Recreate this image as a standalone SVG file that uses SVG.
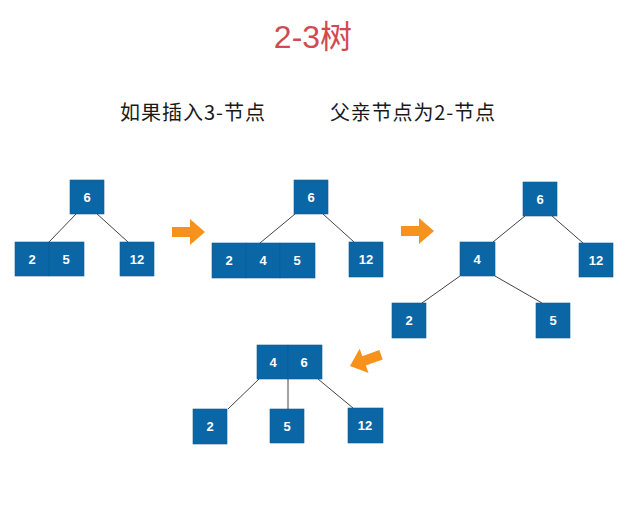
<svg xmlns="http://www.w3.org/2000/svg" width="631" height="510" viewBox="0 0 631 510">
<defs>
<style>
.n rect{fill:#0b66a6;stroke:#0a5d98;stroke-width:0.6}
.n text{fill:#fff;font-family:"Liberation Sans",Arial,sans-serif;font-weight:bold;font-size:13px;text-anchor:middle}
.e line{stroke:#444;stroke-width:1}
.ar{fill:#f7921c}
.sub{font-family:"Noto Sans CJK SC","Noto Sans",sans-serif;font-size:20px;fill:#1a1a1a}
</style>
<path id="arrow" d="M0,0 L-15,-13 L-15,-5 L-33,-5 L-33,5 L-15,5 L-15,13 Z"/>
</defs>
<rect width="631" height="510" fill="#fff"/>
<text x="313" y="48" text-anchor="middle" font-family="'Liberation Sans','Noto Sans CJK SC',sans-serif" font-size="32" fill="#d24a50">2-3树</text>
<text class="sub" x="120" y="120" textLength="145" lengthAdjust="spacing">如果插入3-节点</text>
<text class="sub" x="330" y="120" textLength="165" lengthAdjust="spacing">父亲节点为2-节点</text>

<g id="connectors" class="e">
<line x1="77" y1="213" x2="49" y2="242"/>
<line x1="96" y1="213" x2="128" y2="242"/>
<line x1="295" y1="214" x2="260" y2="243"/>
<line x1="323" y1="214" x2="354" y2="242"/>
<line x1="525" y1="216" x2="493" y2="242"/>
<line x1="552" y1="216" x2="583" y2="243"/>
<line x1="460" y1="276" x2="422" y2="303"/>
<line x1="495" y1="276" x2="542" y2="303"/>
<line x1="259" y1="379" x2="228" y2="409"/>
<line x1="288" y1="379" x2="288" y2="409"/>
<line x1="318" y1="379" x2="353" y2="408"/>
</g>

<g id="arrows" class="ar">
<use href="#arrow" transform="translate(205,232)"/>
<use href="#arrow" transform="translate(434,231)"/>
<use href="#arrow" transform="translate(350,366) rotate(160)"/>
</g>

<g id="t1-6" class="n"><rect x="70" y="180" width="34" height="34"/><text x="87" y="202">6</text></g>
<g id="t1-25" class="n"><rect x="15" y="242" width="34" height="34"/><rect x="49" y="242" width="35" height="34"/><text x="32" y="264">2</text><text x="66" y="264">5</text></g>
<g id="t1-12" class="n"><rect x="120" y="242" width="34" height="34"/><text x="137" y="264">12</text></g>

<g id="t2-6" class="n"><rect x="294" y="180" width="34" height="34"/><text x="311" y="202">6</text></g>
<g id="t2-245" class="n"><rect x="212" y="243" width="34" height="35"/><rect x="246" y="243" width="34" height="35"/><rect x="280" y="243" width="35" height="35"/><text x="229" y="265">2</text><text x="263" y="265">4</text><text x="297" y="265">5</text></g>
<g id="t2-12" class="n"><rect x="349" y="242" width="34" height="35"/><text x="366" y="264">12</text></g>

<g id="t3-6" class="n"><rect x="523" y="182" width="34" height="34"/><text x="540" y="204">6</text></g>
<g id="t3-4" class="n"><rect x="460" y="242" width="35" height="34"/><text x="477" y="264">4</text></g>
<g id="t3-12" class="n"><rect x="579" y="243" width="34" height="34"/><text x="596" y="265">12</text></g>
<g id="t3-2" class="n"><rect x="392" y="303" width="34" height="35"/><text x="409" y="325">2</text></g>
<g id="t3-5" class="n"><rect x="536" y="303" width="34" height="35"/><text x="553" y="325">5</text></g>

<g id="t4-46" class="n"><rect x="257" y="345" width="31" height="34"/><rect x="288" y="345" width="34" height="34"/><text x="273" y="367">4</text><text x="304" y="367">6</text></g>
<g id="t4-2" class="n"><rect x="193" y="409" width="34" height="35"/><text x="210" y="431">2</text></g>
<g id="t4-5" class="n"><rect x="270" y="409" width="34" height="34"/><text x="287" y="431">5</text></g>
<g id="t4-12" class="n"><rect x="348" y="408" width="35" height="35"/><text x="365" y="430">12</text></g>
</svg>
